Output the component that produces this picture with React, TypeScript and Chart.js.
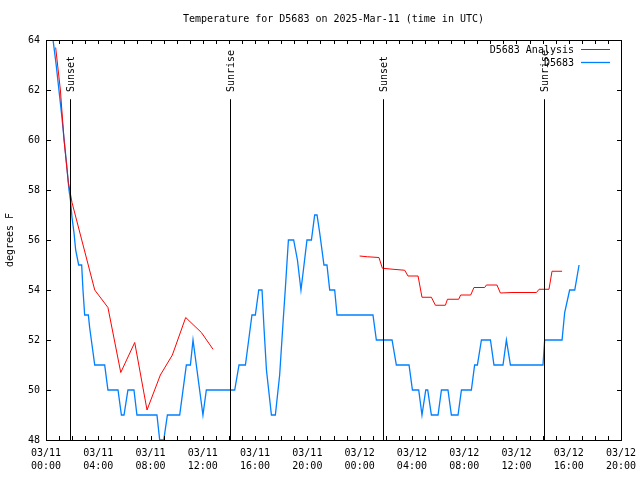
import React, { useEffect, useRef } from "react";
import { Chart, registerables } from "chart.js";

Chart.register(...registerables);

// Observations (hours since 03/11 00:00 UTC, degrees F)
const obsHours = [
  0.54, 0.78, 0.99, 1.2, 1.39, 1.58, 1.76, 1.87, 1.99, 2.14, 2.27, 2.5, 2.73, 2.83, 2.96, 3.24, 3.34, 3.47, 3.73,
  4.49, 4.74, 5.51, 5.77, 5.97, 6.27, 6.73, 6.96, 8.49, 8.7, 9.01, 9.29, 10.23, 10.74, 11.05, 11.25, 12.01, 12.27,
  14.44, 14.77, 15.26, 15.51, 15.76, 16.02, 16.28, 16.53, 16.68, 16.87, 17.25, 17.55, 17.88, 18.14, 18.32, 18.55,
  18.95, 19.24, 19.51, 19.72, 19.97, 20.31, 20.56, 20.74, 20.94, 21.27, 21.5, 21.71, 22.09, 22.27, 25.02, 25.28,
  26.48, 26.81, 27.78, 28.04, 28.52, 28.77, 29.06, 29.21, 29.49, 30.0, 30.26, 30.76, 31.02, 31.53, 31.79, 32.55,
  32.8, 33.01, 33.32, 34.01, 34.28, 34.97, 35.23, 35.54, 38.03, 38.16, 39.49, 39.69, 40.07, 40.46, 40.79,
];
const obsTemps = [
  64, 63, 62, 61, 60, 59, 58, 57.6, 56.9, 56.3, 55.6, 55, 55, 54, 53, 53, 52.5, 52, 51,
  51, 50, 50, 49, 49, 50, 50, 49, 49, 48, 48, 49, 49, 51, 51, 52, 49, 50,
  50, 51, 51, 52, 53, 53, 54, 54, 52.5, 50.8, 49, 49, 50.6, 52.7, 54.1, 56,
  56, 55.2, 54, 54.9, 56, 56, 57, 57, 56.3, 55, 55, 54, 54, 53, 53, 52,
  52, 51, 51, 50, 50, 49, 50, 50, 49, 49, 50, 50, 49, 49, 50, 50,
  51, 51, 52, 52, 51, 51, 52, 51, 51, 52, 52, 53.1, 54, 54, 55,
];

// Analysis (two segments)
const anaHours1 = [0.74, 1.1, 1.38, 1.71, 1.99, 3.73, 4.74, 5.72, 6.79, 7.73, 8.75, 9.67, 10.69, 11.89, 12.78];
const anaTemps1 = [63.7, 62, 60, 58.3, 57.5, 54, 53.3, 50.7, 51.9, 49.2, 50.6, 51.4, 52.9, 52.3, 51.63];
const anaHours2 = [
  24.0, 24.59, 25.48, 25.74, 26.55, 27.45, 27.7, 28.47, 28.77, 29.49, 29.8, 30.56, 30.72, 31.58, 31.73, 32.5,
  32.75, 33.57, 33.7, 34.51, 34.77, 35.66, 37.53, 37.73, 38.49, 38.72, 39.49,
];
const anaTemps2 = [
  55.36, 55.33, 55.3, 54.87, 54.83, 54.79, 54.56, 54.56, 53.71, 53.71, 53.39, 53.39, 53.63, 53.63, 53.8, 53.8,
  54.1, 54.1, 54.2, 54.2, 53.88, 53.9, 53.9, 54.03, 54.03, 54.75, 54.75,
];

const xTickLabels = [
  ["03/11", "00:00"], ["03/11", "04:00"], ["03/11", "08:00"], ["03/11", "12:00"], ["03/11", "16:00"], ["03/11", "20:00"],
  ["03/12", "00:00"], ["03/12", "04:00"], ["03/12", "08:00"], ["03/12", "12:00"], ["03/12", "16:00"], ["03/12", "20:00"],
];
const yTickValues = [48, 50, 52, 54, 56, 58, 60, 62, 64];

const eventHours = [1.87, 14.08, 25.79, 38.09];
const eventLabels = ["Sunset", "Sunrise", "Sunset", "Sunrise"];

const TITLE = "Temperature for D5683 on 2025-Mar-11 (time in UTC)";
const Y_TITLE = "degrees F";
const SERIES_NAMES = ["D5683 Analysis", "D5683"];
const COLORS = ["#ff0000", "#0080ff"];
const FONT = '"DejaVu Sans Mono", monospace';

const overlayPlugin = {
  id: "overlay",
  afterDatasetsDraw(chart: any) {
    const { ctx, chartArea: a, scales } = chart;
    const xs = scales.x;
    const ys = scales.y;
    ctx.save();
    ctx.strokeStyle = "#000";
    ctx.lineWidth = 1;
    ctx.font = `10px ${FONT}`;
    ctx.fillStyle = "#000";

    // event lines + labels
    const h = a.bottom - a.top;
    eventHours.forEach((ev, i) => {
      const px = Math.round(xs.getPixelForValue(ev)) + 0.5;
      ctx.beginPath();
      ctx.moveTo(px, a.top + h * 0.148);
      ctx.lineTo(px, a.bottom);
      ctx.stroke();
      ctx.save();
      ctx.translate(px + 1, a.top + h * 0.13);
      ctx.rotate(-Math.PI / 2);
      ctx.textAlign = "left";
      ctx.textBaseline = "middle";
      ctx.fillText(eventLabels[i], 0, 0);
      ctx.restore();
    });

    // frame
    ctx.strokeRect(a.left + 0.5, a.top + 0.5, a.right - a.left, a.bottom - a.top);

    // x ticks (hourly, inward, top and bottom)
    for (let hr = 0; hr <= 44; hr++) {
      const px = Math.round(xs.getPixelForValue(hr)) + 0.5;
      ctx.beginPath();
      ctx.moveTo(px, a.bottom);
      ctx.lineTo(px, a.bottom - 4);
      ctx.moveTo(px, a.top);
      ctx.lineTo(px, a.top + 4);
      ctx.stroke();
    }
    // y ticks
    yTickValues.forEach((v) => {
      const py = Math.round(ys.getPixelForValue(v)) + 0.5;
      ctx.beginPath();
      ctx.moveTo(a.left, py);
      ctx.lineTo(a.left + 5, py);
      ctx.moveTo(a.right + 1, py);
      ctx.lineTo(a.right - 4, py);
      ctx.stroke();
    });

    // title
    ctx.textAlign = "center";
    ctx.textBaseline = "middle";
    ctx.fillText(TITLE, (a.left + a.right) / 2, 19);

    // y axis title
    ctx.save();
    ctx.translate(10, (a.top + a.bottom) / 2);
    ctx.rotate(-Math.PI / 2);
    ctx.fillText(Y_TITLE, 0, 0);
    ctx.restore();

    // legend
    ctx.textAlign = "right";
    SERIES_NAMES.forEach((name, i) => {
      const yy = a.top + 10 + i * 13;
      ctx.fillStyle = "#000";
      ctx.fillText(name, a.right - 47, yy);
      ctx.strokeStyle = COLORS[i];
      ctx.lineWidth = i === 1 ? 1.3 : 1;
      ctx.beginPath();
      ctx.moveTo(a.right - 40, Math.round(yy) - 0.5);
      ctx.lineTo(a.right - 11, Math.round(yy) - 0.5);
      ctx.stroke();
    });
    ctx.restore();
  },
};

export default function App() {
  const canvasRef = useRef<HTMLCanvasElement | null>(null);

  useEffect(() => {
    if (!canvasRef.current) return;
    const anaData: any[] = anaHours1.map((x, i) => ({ x, y: anaTemps1[i] }));
    anaData.push({ x: 18, y: null });
    anaHours2.forEach((x, i) => anaData.push({ x, y: anaTemps2[i] }));
    const obsData = obsHours.map((x, i) => ({ x, y: obsTemps[i] }));

    const chart = new Chart(canvasRef.current, {
      type: "line",
      data: {
        datasets: [
          {
            label: SERIES_NAMES[0],
            data: anaData,
            borderColor: COLORS[0],
            backgroundColor: COLORS[0],
            borderWidth: 1,
            pointRadius: 0,
            tension: 0,
            spanGaps: false,
          },
          {
            label: SERIES_NAMES[1],
            data: obsData,
            borderColor: COLORS[1],
            backgroundColor: COLORS[1],
            borderWidth: 1.3,
            pointRadius: 0,
            tension: 0,
          },
        ],
      },
      options: {
        animation: false,
        responsive: false,
        layout: { padding: { left: 0, top: 40, right: 19, bottom: 0 } },
        plugins: {
          legend: { display: false },
          title: { display: false },
          tooltip: { enabled: false },
        },
        scales: {
          x: {
            type: "linear",
            min: 0,
            max: 44,
            afterFit: (s: any) => {
              s.height = 40;
              s.paddingLeft = 0;
              s.paddingRight = 0;
            },
            ticks: {
              stepSize: 4,
              autoSkip: false,
              maxRotation: 0,
              padding: 7,
              color: "#000",
              font: { family: FONT, size: 10, lineHeight: 1.3 },
              callback: (v: any) => xTickLabels[Math.round(Number(v) / 4)] as any,
            },
            grid: { display: false, drawTicks: false },
            border: { display: false },
          },
          y: {
            type: "linear",
            min: 48,
            max: 64,
            afterFit: (s: any) => {
              s.width = 46;
              s.paddingTop = 0;
              s.paddingBottom = 0;
            },
            ticks: {
              stepSize: 2,
              padding: 6,
              color: "#000",
              font: { family: FONT, size: 10 },
            },
            grid: { display: false, drawTicks: false },
            border: { display: false },
          },
        },
      },
      plugins: [overlayPlugin],
    });
    return () => chart.destroy();
  }, []);

  return (
    <div style={{ position: "absolute", left: 0, top: 0, width: 640, height: 480, background: "#fff" }}>
      <canvas ref={canvasRef} width={640} height={480} style={{ display: "block" }} />
    </div>
  );
}
